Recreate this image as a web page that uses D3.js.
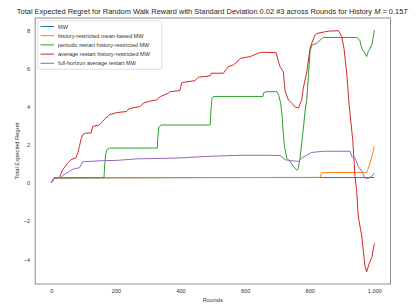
<!DOCTYPE html>
<html><head><meta charset="utf-8">
<script src="https://cdn.jsdelivr.net/npm/d3@7"></script>
<style>body{margin:0;background:#fff;}svg{display:block;font-family:"Liberation Sans",Arial,sans-serif;}</style>
</head><body>
<svg id="c" width="419" height="308"></svg>
<script>
const xTicks = [0, 200, 400, 600, 800, 1000];
const yTicks = [-4, -2, 0, 2, 4, 6, 8];
const seriesNames = ["MW", "history-restricted mean-based MW", "periodic restart history-restricted MW", "average restart history-restricted MW", "full-horizon average restart MW"];
const colors = ["#1f77b4", "#ff7f0e", "#2ca02c", "#d62728", "#9467bd"];

const mw = [[0,0.04],[10,0.27],[500,0.29],[1000,0.29]];
const histMean = [[0,0.04],[10,0.27],[832,0.30],[837,0.55],[976,0.56],[981,0.75],[987,1.05],[992,1.4],[996,1.65],[1000,1.93]];
const periodic = [[0,0.04],[10,0.27],[163,0.29],[165,0.9],[168,1.5],[172,1.75],[180,1.84],[328,1.84],[330,2.5],[333,2.95],[340,3.05],[492,3.05],[494,3.8],[497,4.4],[502,4.55],[655,4.55],[658,4.75],[665,4.8],[698,4.8],[704,4.6],[710,4.2],[714,3.6],[718,2.63],[722,1.9],[729,1.3],[739,1.14],[749,0.88],[760,0.67],[765,0.8],[770,1.3],[775,2.1],[781,3.0],[786,3.85],[791,4.4],[796,5.7],[801,6.9],[806,7.25],[822,7.34],[832,7.51],[842,7.65],[945,7.65],[955,7.5],[961,7.08],[971,6.82],[976,6.64],[981,6.9],[988,7.1],[993,7.3],[997,7.7],[1000,8.04]];
const avgRestart = [[0,0.04],[10,0.27],[25,0.3],[30,0.5],[35,0.71],[42,0.85],[51,1.06],[61,1.23],[76,1.32],[82,1.6],[87,1.93],[92,2.3],[97,2.54],[107,2.63],[123,2.63],[128,2.97],[149,3.06],[159,3.24],[167,3.4],[175,3.5],[180,3.59],[202,3.7],[233,3.76],[240,3.9],[249,3.94],[275,4.02],[285,4.2],[300,4.28],[326,4.37],[337,4.54],[362,4.72],[367,4.8],[398,4.86],[404,5.28],[445,5.38],[455,5.56],[491,5.63],[496,5.77],[533,5.77],[538,5.91],[548,6.12],[563,6.2],[574,6.35],[584,6.55],[615,6.64],[641,6.82],[651,6.87],[696,6.85],[703,6.38],[708,6.12],[718,5.85],[724,4.8],[734,4.37],[744,4.2],[755,3.99],[765,3.94],[775,4.37],[780,4.98],[791,5.85],[801,7.08],[806,7.34],[816,7.77],[822,7.86],[858,7.98],[889,8.0],[899,7.69],[906,7.08],[915,5.68],[922,4.1],[933,2.28],[940,0.36],[945,-0.34],[950,-1.74],[961,-2.79],[971,-4.36],[976,-4.67],[985,-4.18],[992,-3.92],[1000,-3.18]];
const fullHorizon = [[0,0.04],[9,0.27],[30,0.3],[40,0.45],[56,0.62],[71,0.76],[87,0.8],[97,1.12],[161,1.18],[200,1.19],[264,1.27],[398,1.32],[476,1.4],[584,1.46],[677,1.46],[708,1.45],[724,1.23],[739,1.18],[765,1.14],[775,1.32],[806,1.61],[842,1.67],[925,1.67],[930,1.4],[940,1.32],[950,0.88],[961,0.62],[971,0.27],[981,0.24],[992,0.36],[1000,0.52]];
const allSeries = [mw, histMean, periodic, avgRestart, fullHorizon];

const svg = d3.select("#c");
const L = 35.2, R = 390.5, T = 18, B = 284;
const x = d3.scaleLinear().domain([-50, 1050]).range([L, R]);
const y = d3.scaleLinear().domain([-5.30, 8.67]).range([B, T]);

// title
const title = svg.append("text").attr("x", (L+R)/2 - 0.5).attr("y", 13.5).attr("text-anchor","middle")
  .attr("font-size", 7.45).attr("fill", "#262626");
title.append("tspan").text("Total Expected Regret for Random Walk Reward with Standard Deviation 0.02 #3 across Rounds for History ");
title.append("tspan").attr("font-style","italic").text("M");
title.append("tspan").text(" = 0.15");
title.append("tspan").attr("font-style","italic").text("T");

// lines
const line = d3.line().x(d => x(d[0])).y(d => y(d[1]));
const g = svg.append("g");
allSeries.forEach((s, i) => {
  g.append("path").attr("d", line(s)).attr("fill","none").attr("stroke", colors[i]).attr("stroke-width", 1).attr("stroke-linejoin","round");
});

// spines
svg.append("rect").attr("x", L).attr("y", T).attr("width", R-L).attr("height", B-T)
  .attr("fill","none").attr("stroke","#8c8c8c").attr("stroke-width",1);

// axes (no tick marks)
const xa = svg.append("g").attr("transform", `translate(0,${B})`)
  .call(d3.axisBottom(x).tickValues(xTicks).tickSize(0).tickPadding(5));
const ya = svg.append("g").attr("transform", `translate(${L},0)`)
  .call(d3.axisLeft(y).tickValues(yTicks).tickSize(0).tickPadding(5).tickFormat(d => d < 0 ? "\u2212" + Math.abs(d) : d));
[xa, ya].forEach(a => {
  a.select(".domain").remove();
  a.selectAll("text").attr("font-size", 5.6).attr("fill", "#333").attr("font-family", '"Liberation Sans",Arial,sans-serif');
});

svg.append("text").attr("x", (L+R)/2).attr("y", 302).attr("text-anchor","middle").attr("font-size",5.8).attr("fill","#333").text("Rounds");
svg.append("text").attr("transform", `translate(19,${(T+B)/2}) rotate(-90)`).attr("text-anchor","middle").attr("font-size",5.8).attr("fill","#333").text("Total Expected Regret");

// legend
const lg = svg.append("g");
lg.append("rect").attr("x", 37.8).attr("y", 20.8).attr("width", 124).attr("height", 48.5).attr("rx", 1.5)
  .attr("fill", "#fff").attr("fill-opacity", 0.8).attr("stroke", "#d6d6d6").attr("stroke-width", 0.8);
seriesNames.forEach((n, i) => {
  const yy = 26.5 + i * 9.2;
  lg.append("line").attr("x1", 40.5).attr("x2", 54).attr("y1", yy).attr("y2", yy).attr("stroke", colors[i]).attr("stroke-width", 1);
  lg.append("text").attr("x", 58).attr("y", yy + 2).attr("font-size", 5.6).attr("fill", "#333").text(n);
});
</script>
</body></html>
